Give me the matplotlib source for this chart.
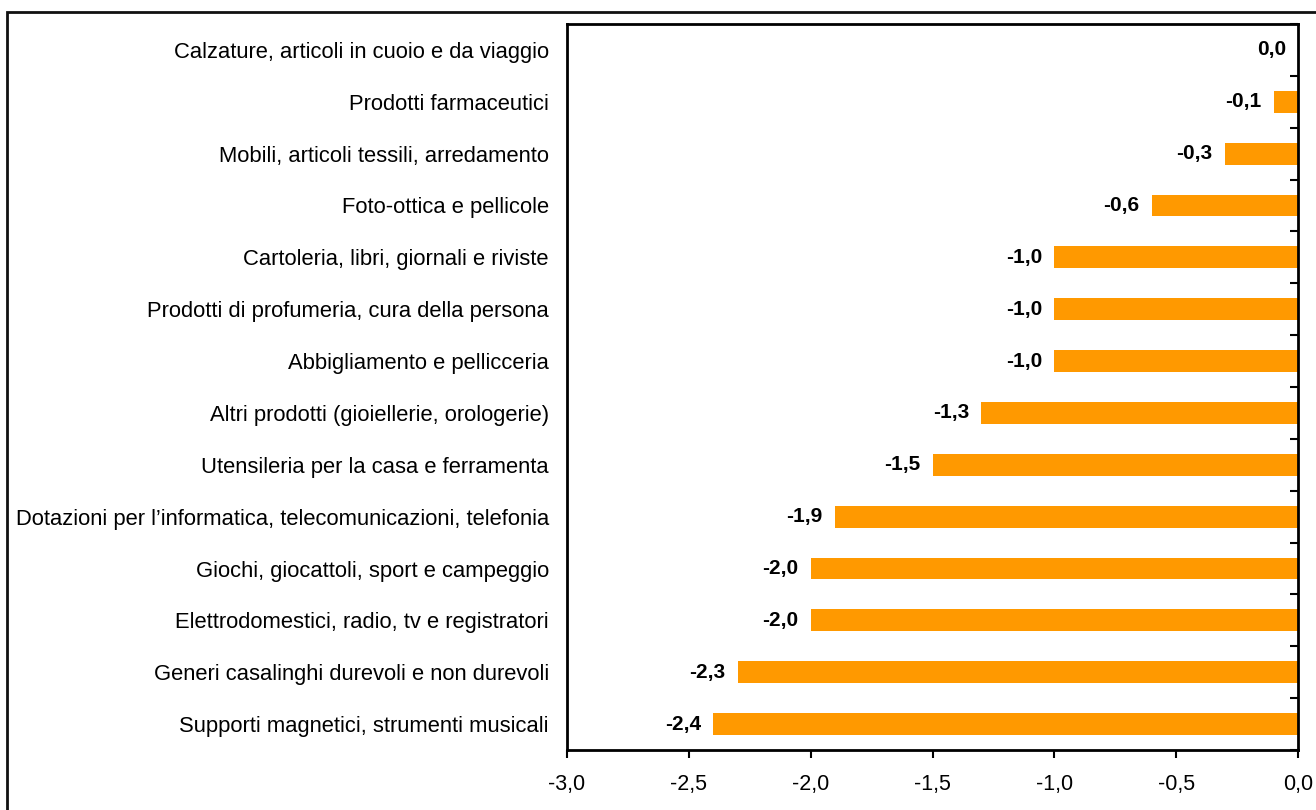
import matplotlib.pyplot as plt
import numpy as np
from matplotlib.patches import Rectangle

plt.rcParams['font.family'] = ['Liberation Sans', 'DejaVu Sans']

# categorie dall'alto verso il basso
categorie = [
    'Calzature, articoli in cuoio e da viaggio',
    'Prodotti farmaceutici',
    'Mobili, articoli tessili, arredamento',
    'Foto-ottica e pellicole',
    'Cartoleria, libri, giornali e riviste',
    'Prodotti di profumeria, cura della persona',
    'Abbigliamento e pellicceria',
    'Altri prodotti (gioiellerie, orologerie)',
    'Utensileria per la casa e ferramenta',
    "Dotazioni per l\u2019informatica, telecomunicazioni, telefonia",
    'Giochi, giocattoli, sport e campeggio',
    'Elettrodomestici, radio, tv e registratori',
    'Generi casalinghi durevoli e non durevoli',
    'Supporti magnetici, strumenti musicali',
]
valori = [0.0, -0.1, -0.3, -0.6, -1.0, -1.0, -1.0, -1.3, -1.5, -1.9, -2.0, -2.0, -2.3, -2.4]
xticks = [-3.0, -2.5, -2.0, -1.5, -1.0, -0.5, 0.0]

fig = plt.figure(figsize=(13.16, 8.1), dpi=100)
ax = fig.add_axes([567 / 1316, 1 - 750 / 810, (1298 - 567) / 1316, (750 - 24) / 810])

# cornice esterna
fig.patches.append(Rectangle((7 / 1316, -0.05), 1.1, 1 - 12 / 810 + 0.05,
                             transform=fig.transFigure, fill=False,
                             edgecolor='#111111', linewidth=2, zorder=0))

y = np.arange(len(categorie))
ax.barh(y, valori, height=0.42, color='#FF9900', zorder=2)

for yi, v in zip(y, valori):
    ax.text(v - 0.05, yi, f'{v:.1f}'.replace('.', ','), ha='right', va='center',
            fontsize=15, fontweight='bold', color='black')

ax.set_xlim(-3.0, 0.0)
ax.set_ylim(len(categorie) - 0.5, -0.5)

ax.set_yticks(y)
ax.set_yticklabels(categorie, fontsize=15.8)
ax.tick_params(axis='y', which='major', length=0, pad=13)
ax.set_yticks(np.arange(-0.5, len(categorie), 1.0), minor=True)
ax.tick_params(axis='y', which='minor', left=False, right=True, direction='in',
               length=6, width=1.5)

ax.set_xticks(xticks)
ax.set_xticklabels([f'{t:.1f}'.replace('.', ',') for t in xticks], fontsize=15.5)
ax.tick_params(axis='x', direction='out', length=6, width=1.5, pad=11)

for s in ax.spines.values():
    s.set_linewidth(2)
    s.set_color('black')

plt.savefig('out.png', dpi=100, facecolor='white')
plt.close()
